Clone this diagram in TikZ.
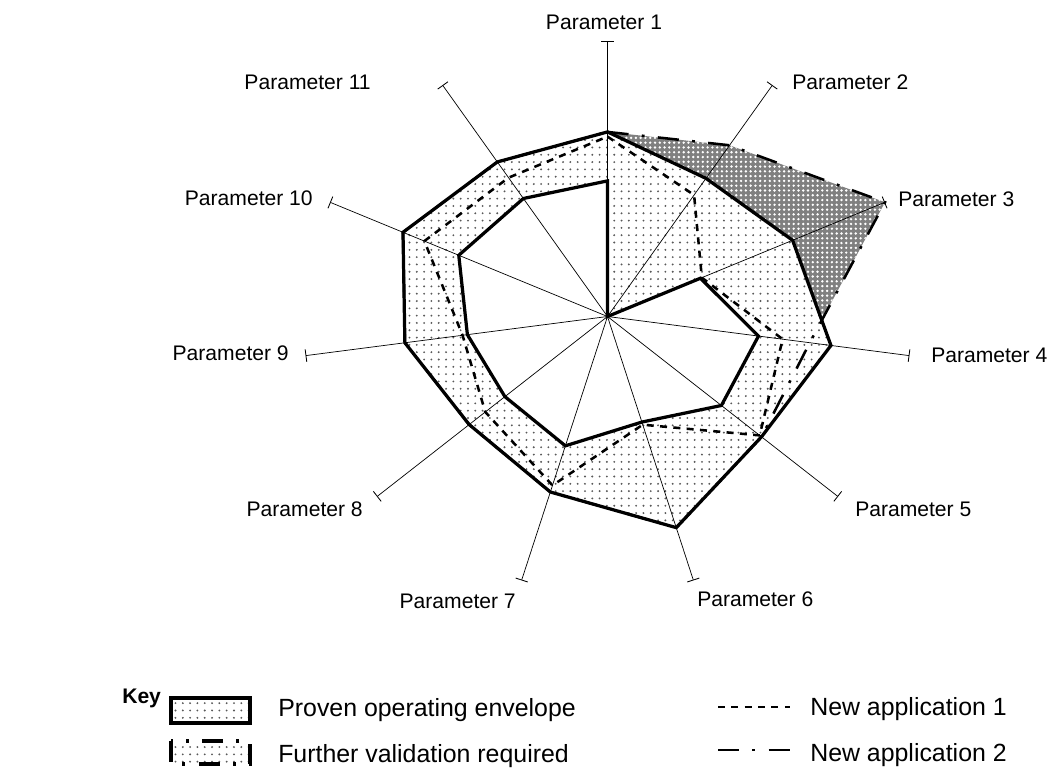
\documentclass[tikz,border=0pt]{standalone}
\usepackage{fontspec}
\setmainfont{Liberation Sans}
\usetikzlibrary{patterns,arrows.meta}

% sparse dots for the proven envelope, white holes for the grey band
\pgfdeclarepatternformonly{envdots}{\pgfqpoint{-1pt}{-1pt}}{\pgfqpoint{1pt}{1pt}}{\pgfqpoint{5.2pt}{5.2pt}}%
  {\pgfpathcircle{\pgfqpoint{0pt}{0pt}}{0.75pt}\pgfusepath{fill}}
\pgfdeclarepatternformonly{holedots}{\pgfqpoint{-1pt}{-1pt}}{\pgfqpoint{1pt}{1pt}}{\pgfqpoint{3.4pt}{3.4pt}}%
  {\pgfpathcircle{\pgfqpoint{0pt}{0pt}}{0.95pt}\pgfusepath{fill}}

\begin{document}
\begin{tikzpicture}[x=0.025cm,y=-0.025cm,font=\fontsize{15}{18}\selectfont]
  \tikzset{
    axisline/.style={line width=0.5pt,-{Bar[width=9pt,line width=0.6pt]}},
    envelope/.style={line width=2.3pt,line join=miter},
    provenfill/.style={pattern=envdots,pattern color=black!65},
    furtherfill/.style={preaction={fill=black!50},pattern=holedots,pattern color=white},
    appone/.style={line width=1.8pt,dash pattern=on 5pt off 4.5pt},
    apptwo/.style={line width=1.8pt,dash pattern=on 15pt off 9.5pt on 2pt off 9.5pt},
    plabel/.style={inner sep=0pt},
    keytext/.style={font=\fontsize{17.7}{21}\selectfont,anchor=base west,inner sep=0pt}
  }
  \useasboundingbox (0,0) rectangle (1048,769);

  % Radar chart, eleven parameters; x and y radii differ.
  \begin{scope}[shift={(607.5,316.5)},x=7.625cm,y=6.875cm]
    \coordinate (c) at (0,0);
    \foreach \k/\o/\i/\m/\n in {1/0.671/0.493/0.654/0.671,2/0.597/0/0.525/0.74,
        3/0.667/0.335/0.34/1.0,4/0.740/0.50/0.58/0.67,5/0.668/0.494/0.66/0.668,
        6/0.800/0.40/0.41/0.800,7/0.665/0.49/0.64/0.665,8/0.600/0.445/0.53/0.600,
        9/0.671/0.464/0.48/0.671,10/0.737/0.536/0.66/0.737,11/0.668/0.51/0.60/0.668} {
      \pgfmathsetmacro\ang{90-(\k-1)*360/11}
      \coordinate (a\k) at (\ang:1);
      \coordinate (o\k) at (\ang:\o);
      \coordinate (i\k) at (\ang:\i);
      \coordinate (m\k) at (\ang:\m);
      \coordinate (n\k) at (\ang:\n);
    }
    \coordinate (x34) at (intersection of n3--n4 and o3--o4);

    % Proven band and the part that needs more validation.
    \fill[provenfill,even odd rule] (o1) \foreach \k in {2,...,11}{ -- (o\k)} -- cycle
      (i1) \foreach \k in {2,...,11}{ -- (i\k)} -- cycle;
    \fill[furtherfill] (o1) -- (n2) -- (n3) -- (x34) -- (o3) -- (o2) -- cycle;

    \foreach \k in {1,...,11}
      \draw[axisline] (c) -- (a\k);

    % application 2 runs on the envelope from parameter 5 on
    \draw[apptwo] (n1) \foreach \k in {2,...,11}{ -- (n\k)} -- cycle;
    \draw[envelope] (o1) \foreach \k in {2,...,11}{ -- (o\k)} -- cycle;
    \draw[envelope] (i1) \foreach \k in {2,...,11}{ -- (i\k)} -- cycle;
    \draw[appone] (m1) \foreach \k in {2,...,11}{ -- (m\k)} -- cycle;
  \end{scope}

  % Parameter labels
  \foreach \k/\anc/\px/\py in {1/base/604/29.3,2/base west/792/89,3/base west/898/206.5,
      4/base west/931/362,5/base west/855/516,6/base west/697/606.7,7/base east/516/608,
      8/base east/363/516,9/base east/289/360,10/base east/313/205,11/base east/371/89}
    \node[plabel,anchor=\anc] (p\k) at (\px,\py) {Parameter \k};

  % Key
  \node[keytext,font=\fontsize{15}{18}\selectfont\bfseries] (key) at (122,703) {Key};
  \draw[envelope,provenfill] (171,698) rectangle (250,723);
  \node[keytext] (kprov) at (278,716) {Proven operating envelope};
  \draw[envelope,provenfill,apptwo,line width=2.3pt] (171,741) rectangle (250,764);
  \node[keytext] (kfurth) at (278,762.5) {Further validation required};
  \draw[appone] (718,707) -- (790,707);
  \node[keytext] (kone) at (810,715) {New application 1};
  \draw[apptwo] (718,750) -- (790,750);
  \node[keytext] (ktwo) at (810,761.7) {New application 2};
\end{tikzpicture}
\end{document}
